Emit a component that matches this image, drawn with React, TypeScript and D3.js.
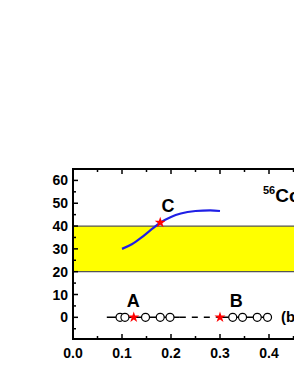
import * as d3 from "d3";
import { useEffect, useRef } from "react";

// blue curve (x, y)
const curveX = [0.1, 0.12, 0.14, 0.16, 0.178, 0.2, 0.22, 0.25, 0.28, 0.3];
const curveY = [30, 32, 35, 38.5, 41.5, 44, 45.5, 46.6, 46.9, 46.6];
const starC = [0.178, 41.5];

// row at y = 0
const openA = [0.096, 0.106, 0.148, 0.178, 0.198];
const openB = [0.326, 0.346, 0.376, 0.397];
const stars = [0.124, 0.3];
const solidA = [0.069, 0.218];
const dashed = [0.218, 0.293];
const solidB = [0.293, 0.4];

const band = [20, 40];
const yTicks = [0, 10, 20, 30, 40, 50, 60];
const xTicks = [0, 0.1, 0.2, 0.3, 0.4];

export default function App() {
  const svgRef = useRef<SVGSVGElement>(null);

  useEffect(() => {
    if (!svgRef.current) return;
    const svg = d3.select(svgRef.current);
    svg.selectAll("*").remove();

    const left = 73;
    const top = 169;
    const bottom = 339;
    const right = 330;

    const x = d3.scaleLinear().domain([0, 0.522]).range([left, left + 0.522 * 490]);
    const y = d3.scaleLinear().domain([-9.5, 65]).range([bottom, top]);
    const font = "Arial, 'Liberation Sans', sans-serif";

    // 黄色区域
    svg
      .append("rect")
      .attr("x", left)
      .attr("y", y(band[1]))
      .attr("width", right - left)
      .attr("height", y(band[0]) - y(band[1]))
      .attr("fill", "#ffff00");
    band.forEach((v) => {
      svg
        .append("line")
        .attr("x1", left)
        .attr("x2", right)
        .attr("y1", y(v))
        .attr("y2", y(v))
        .attr("stroke", "#555")
        .attr("stroke-width", 1.2);
    });

    // 蓝线
    const line = d3
      .line<number>()
      .x((_, i) => x(curveX[i]))
      .y((d) => y(d))
      .curve(d3.curveMonotoneX);
    svg
      .append("path")
      .attr("d", line(curveY))
      .attr("fill", "none")
      .attr("stroke", "#1f1fe6")
      .attr("stroke-width", 2.2);

    // y=0 横线
    const seg = (s: number[], dash: string | null) => {
      const l = svg
        .append("line")
        .attr("x1", x(s[0]))
        .attr("x2", x(s[1]))
        .attr("y1", y(0))
        .attr("y2", y(0))
        .attr("stroke", "#000")
        .attr("stroke-width", 1.5);
      if (dash) l.attr("stroke-dasharray", dash);
    };
    seg(solidA, null);
    seg(dashed, "6,6");
    seg(solidB, null);

    svg
      .selectAll("circle.open")
      .data([...openA, ...openB])
      .join("circle")
      .attr("class", "open")
      .attr("cx", (d) => x(d))
      .attr("cy", y(0))
      .attr("r", 4)
      .attr("fill", "#fff")
      .attr("stroke", "#000")
      .attr("stroke-width", 1.2);

    const star = d3.symbol().type(d3.symbolStar).size(38);
    const starPts: number[][] = [...stars.map((s) => [s, 0]), starC];
    svg
      .selectAll("path.star")
      .data(starPts)
      .join("path")
      .attr("class", "star")
      .attr("d", star())
      .attr("transform", (d) => `translate(${x(d[0])},${y(d[1])})`)
      .attr("fill", "#ff0000");

    // 坐标轴框
    svg
      .append("path")
      .attr("d", `M${right},${top}H${left}V${bottom}H${right}`)
      .attr("fill", "none")
      .attr("stroke", "#000")
      .attr("stroke-width", 2);

    // y 刻度
    d3.range(-5, 65, 5).forEach((v) => {
      const len = v % 10 === 0 ? 5 : 3;
      svg
        .append("line")
        .attr("x1", left)
        .attr("x2", left + len)
        .attr("y1", y(v))
        .attr("y2", y(v))
        .attr("stroke", "#000")
        .attr("stroke-width", 1.5);
    });
    yTicks.forEach((v) => {
      svg
        .append("text")
        .attr("x", left - 5)
        .attr("y", y(v))
        .attr("dy", "0.36em")
        .attr("text-anchor", "end")
        .attr("font-family", font)
        .attr("font-weight", "bold")
        .attr("font-size", 14)
        .text(v);
    });

    // x 刻度（上下）
    d3.range(0.05, 0.55, 0.05).forEach((v) => {
      const len = Math.round(v * 100) % 10 === 0 ? 5 : 3;
      [
        [bottom, -len],
        [top, len],
      ].forEach(([yy, d]) => {
        svg
          .append("line")
          .attr("x1", x(v))
          .attr("x2", x(v))
          .attr("y1", yy)
          .attr("y2", yy + d)
          .attr("stroke", "#000")
          .attr("stroke-width", 1.5);
      });
    });
    xTicks.forEach((v) => {
      svg
        .append("text")
        .attr("x", x(v))
        .attr("y", bottom + 19)
        .attr("text-anchor", "middle")
        .attr("font-family", font)
        .attr("font-weight", "bold")
        .attr("font-size", 14)
        .text(v.toFixed(1));
    });

    // 标注
    const label = (t: string, xv: number, yv: number, size: number) =>
      svg
        .append("text")
        .attr("x", x(xv))
        .attr("y", y(yv))
        .attr("text-anchor", "middle")
        .attr("font-family", font)
        .attr("font-weight", "bold")
        .attr("font-size", size)
        .text(t);
    label("C", 0.194, 46, 18);
    label("A", 0.123, 4.5, 18);
    label("B", 0.333, 4.5, 18);

    svg
      .append("text")
      .attr("x", 281)
      .attr("y", y(0) + 5)
      .attr("font-family", font)
      .attr("font-weight", "bold")
      .attr("font-size", 15)
      .text("(b)");

    const co = svg
      .append("text")
      .attr("x", 263)
      .attr("y", 202)
      .attr("font-family", font)
      .attr("font-weight", "bold");
    co.append("tspan").attr("font-size", 11).attr("dy", -8).text("56");
    co.append("tspan").attr("font-size", 19).attr("dy", 8).text("Co");
  }, []);

  return (
    <svg
      ref={svgRef}
      width={294}
      height={381}
      style={{ position: "absolute", left: 0, top: 0, background: "#fff" }}
    />
  );
}
